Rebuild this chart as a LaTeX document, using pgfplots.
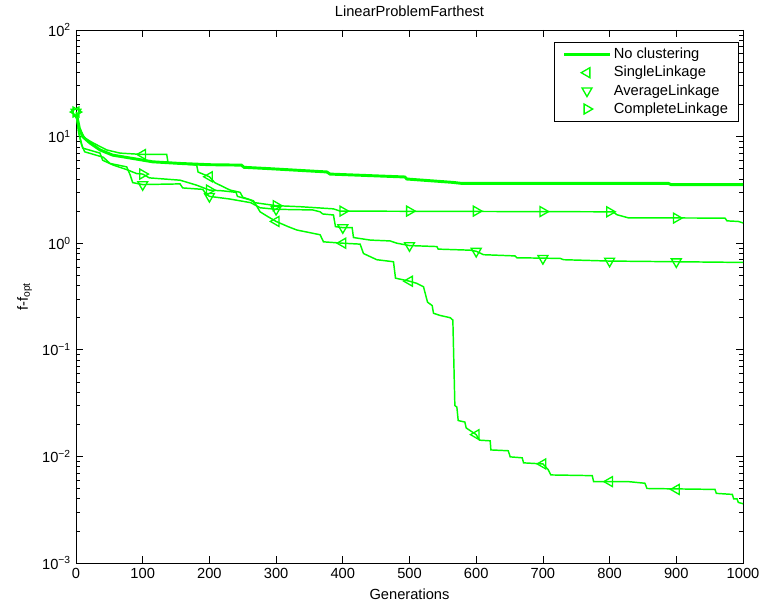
\documentclass[border=0pt]{standalone}
\usepackage{fontspec}
\setmainfont{Liberation Sans}
\usepackage{pgfplots}
\pgfplotsset{compat=1.18}
\definecolor{mgreen}{rgb}{0,1,0}

\begin{document}
\fontsize{11}{13.2}\selectfont
\begin{tikzpicture}
\begin{axis}[
    scale only axis,
    width=500.25pt, height=399.75pt,
    ymode=log,
    xmin=0, xmax=1000, ymin=1e-3, ymax=1e2,
    xtick={0,100,...,1000},
    ytick={1e-3,1e-2,1e-1,1,10,100},
    yticklabels={10\textsuperscript{−3},10\textsuperscript{−2},10\textsuperscript{−1},10\textsuperscript{0},10\textsuperscript{1},10\textsuperscript{2}},
    minor ytick={2e-3,3e-3,4e-3,5e-3,6e-3,7e-3,8e-3,9e-3,
                 2e-2,3e-2,4e-2,5e-2,6e-2,7e-2,8e-2,9e-2,
                 0.2,0.3,0.4,0.5,0.6,0.7,0.8,0.9,
                 2,3,4,5,6,7,8,9,20,30,40,50,60,70,80,90},
    /pgf/number format/assume math mode=true,
    /pgf/number format/1000 sep={},
    tick label style={font=\fontsize{11}{13}\selectfont},
    label style={font=\fontsize{11}{13}\selectfont},
    title style={font=\fontsize{11}{13}\selectfont},
    title={LinearProblemFarthest},
    xlabel={Generations},
    ylabel={f-f\textsubscript{opt}},
    ylabel style={yshift=0pt},
    major tick length=5pt, minor tick length=3pt,
    tick style={black, line width=0.5pt},
    axis line style={line width=0.6pt},
    legend style={at={(0.994,0.978)}, anchor=north east, draw=black,
        line width=0.6pt, font=\fontsize{11}{13}\selectfont,
        inner xsep=6pt, inner ysep=2.5pt, row sep=0pt},
    legend cell align=left,
    legend image code/.code={\draw[mark repeat=2,mark phase=2,#1]
        plot coordinates {(0pt,0pt) (17pt,0pt) (34pt,0pt)};},
]

% No clustering (thick line)
\addplot[mgreen, line width=2.2pt, sharp plot] coordinates {
 (0,17)(5,12)(10,10)(21,8.7)(36,7.5)(55,6.7)(81,6.3)(115,5.8)(156,5.6)
 (200,5.45)(248,5.4)(252,5.15)(291,5.0)(376,4.66)(381,4.45)(493,4.18)
 (496,4.0)(565,3.72)(578,3.64)(888,3.64)(892,3.55)(1000,3.55)};
\addlegendentry{No clustering}

% SingleLinkage line
\addplot[mgreen, line width=1.1pt, sharp plot, forget plot] coordinates {
 (0,17)(5,12)(13,9.7)(26,8.7)(46,7.5)(66,7.0)(100,6.8)(136,6.8)(138,5.7)
 (181,5.4)(183,4.65)(200,4.2)(208,3.7)(231,3.15)(246,3.0)(250,2.7)(266,2.5)
 (270,2.28)(276,1.97)(288,1.77)(300,1.6)(318,1.43)(331,1.33)(366,1.2)
 (371,1.03)(400,1.0)(426,0.98)(431,0.80)(451,0.70)(476,0.67)(479,0.47)
 (500,0.44)(511,0.42)(521,0.39)(527,0.28)(534,0.26)(536,0.22)(546,0.21)
 (561,0.20)(565,0.19)(568,0.03)(571,0.029)(573,0.0217)(583,0.021)
 (585,0.0185)(600,0.016)(605,0.0142)(621,0.014)(622,0.0115)(648,0.0113)
 (651,0.0099)(669,0.0097)(671,0.0087)(700,0.0085)(708,0.0075)(712,0.0067)
 (774,0.0066)(776,0.0058)(828,0.0058)(853,0.0056)(856,0.0050)(958,0.0049)
 (960,0.0045)(984,0.0044)(986,0.0040)(991,0.0040)(993,0.0037)(1000,0.0036)};
\addplot[mgreen, only marks, mark=triangle, mark size=4.3pt,
    mark options={solid, rotate=90, line width=1pt}] coordinates {
 (0,17)(100,6.8)(200,4.2)(300,1.6)(400,1.0)(500,0.44)(600,0.016)
 (700,0.0085)(800,0.0058)(900,0.0049)};
\addlegendentry{SingleLinkage}

% AverageLinkage line
\addplot[mgreen, line width=1.1pt, sharp plot, forget plot] coordinates {
 (0,17)(4,11)(8,8.5)(13,7.2)(41,6.4)(51,5.6)(76,5.2)(81,4.4)(85,3.7)
 (100,3.55)(156,3.6)(160,3.3)(190,3.2)(195,2.9)(200,2.75)(230,2.6)
 (262,2.4)(276,2.15)(300,2.08)(355,2.05)(366,1.97)(370,1.88)(386,1.84)
 (389,1.43)(400,1.40)(414,1.40)(416,1.13)(441,1.07)(471,1.05)(481,1.0)
 (500,0.95)(541,0.93)(543,0.88)(591,0.86)(600,0.84)(611,0.78)(658,0.76)
 (661,0.73)(726,0.72)(731,0.70)(800,0.68)(900,0.67)(1000,0.66)};
\addplot[mgreen, only marks, mark=triangle, mark size=4.3pt,
    mark options={solid, rotate=180, line width=1pt}] coordinates {
 (0,17)(100,3.55)(200,2.75)(300,2.08)(400,1.40)(500,0.95)(600,0.84)
 (700,0.72)(800,0.68)(900,0.67)};
\addlegendentry{AverageLinkage}

% CompleteLinkage line
\addplot[mgreen, line width=1.1pt, sharp plot, forget plot] coordinates {
 (0,17)(4,11)(10,7.8)(36,7.0)(40,6.0)(56,5.4)(76,4.9)(91,4.5)(100,4.45)
 (110,4.1)(156,3.9)(181,3.5)(200,3.15)(220,3.1)(240,3.0)(242,2.75)
 (261,2.55)(268,2.4)(300,2.25)(336,2.2)(386,2.1)(396,2.0)(805,1.97)
 (811,1.85)(828,1.73)(973,1.72)(976,1.62)(993,1.6)(1000,1.55)};
\addplot[mgreen, only marks, mark=triangle, mark size=4.3pt,
    mark options={solid, rotate=-90, line width=1pt}] coordinates {
 (0,17)(100,4.45)(200,3.15)(300,2.25)(400,2.0)(500,2.0)(600,2.0)
 (700,1.98)(800,1.97)(900,1.72)};
\addlegendentry{CompleteLinkage}

\end{axis}
\pgfresetboundingbox
\useasboundingbox (-57pt,-29.25pt) rectangle (515.25pt,422.25pt);
\end{tikzpicture}
\end{document}
